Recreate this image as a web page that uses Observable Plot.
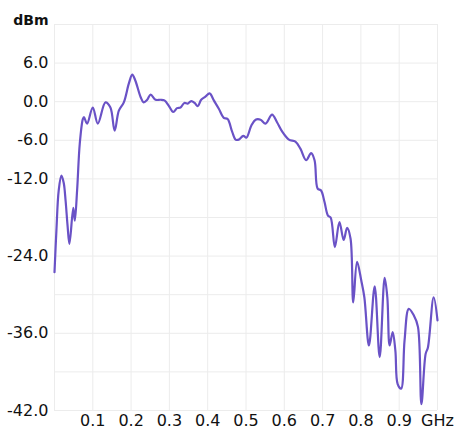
<!DOCTYPE html>
<html>
<head>
<meta charset="utf-8">
<script src="https://cdn.jsdelivr.net/npm/d3@7"></script>
<script src="https://cdn.jsdelivr.net/npm/@observablehq/plot@0.6"></script>
<style>
  html, body { margin: 0; padding: 0; background: #fff; }
</style>
</head>
<body>
<div id="chart"></div>
<script>
const freq = [0.000,0.005,0.011,0.018,0.024,0.029,0.034,0.039,0.049,0.053,
  0.059,0.066,0.074,0.077,0.085,0.100,0.113,0.133,0.146,0.157,
  0.168,0.181,0.194,0.203,0.211,0.225,0.233,0.242,0.251,0.264,
  0.277,0.287,0.298,0.310,0.320,0.329,0.339,0.348,0.357,0.366,
  0.374,0.383,0.394,0.405,0.416,0.429,0.442,0.452,0.464,0.473,
  0.481,0.493,0.501,0.514,0.525,0.538,0.551,0.568,0.581,0.595,
  0.612,0.629,0.642,0.657,0.670,0.679,0.687,0.696,0.705,0.714,
  0.721,0.732,0.744,0.755,0.764,0.773,0.780,0.790,0.801,0.809,
  0.821,0.836,0.849,0.862,0.869,0.875,0.883,0.890,0.896,0.905,
  0.914,0.925,0.938,0.949,0.958,0.969,0.975,0.990,1.000];
const level = [-26.5,-20.0,-13.8,-11.5,-12.6,-15.4,-19.2,-22.1,-16.5,-18.5,
  -13.8,-6.5,-2.7,-2.4,-3.4,-0.9,-3.4,-0.1,-0.9,-4.5,
  -1.4,-0.1,2.8,4.2,3.3,0.7,-0.1,0.3,1.1,0.3,
  0.3,0.2,-0.6,-1.6,-1.0,-0.9,-0.2,-0.3,0.1,-0.2,
  -0.7,0.3,0.8,1.3,0.2,-1.1,-2.5,-2.7,-4.7,-5.9,
  -5.9,-5.3,-5.6,-3.7,-2.8,-2.8,-3.4,-2.0,-3.2,-4.7,
  -5.9,-6.2,-7.3,-9.1,-8.0,-9.1,-13.5,-13.8,-15.6,-17.7,
  -18.0,-22.6,-18.7,-21.5,-19.6,-21.3,-31.2,-24.9,-27.8,-30.4,
  -37.9,-28.7,-39.7,-27.4,-30.4,-37.9,-35.8,-38.7,-43.9,-44.6,
  -37.1,-32.2,-33.2,-35.0,-47.0,-39.2,-38.2,-30.4,-34.0];

const xTicks = [0.1,0.2,0.3,0.4,0.5,0.6,0.7,0.8,0.9,1.0];
const xTickLabels = ["0.1","0.2","0.3","0.4","0.5","0.6","0.7","0.8","0.9","GHz"];
const yTicks = [6,0,-6,-12,-24,-36,-48];
const yTickLabels = ["6.0","0.0","-6.0","-12.0","-24.0","-36.0","-42.0"];
const xGrid = [0,0.1,0.2,0.3,0.4,0.5,0.6,0.7,0.8,0.9,1.0];
const yGrid = [12,6,0,-6,-12,-18,-24,-30,-36,-42,-48];
const yUnit = "dBm";

const data = freq.map((f, i) => ({f, v: level[i]}));
const fontFamily = "'DejaVu Sans', sans-serif";

const chart = Plot.plot({
  width: 455,
  height: 430,
  marginLeft: 54,
  marginRight: 18,
  marginTop: 24,
  marginBottom: 20,
  style: {fontFamily, fontSize: "16px", color: "#111", background: "#fff"},
  x: {domain: [0, 1]},
  y: {domain: [-48, 12]},
  marks: [
    Plot.gridX(xGrid, {stroke: "#ececec", strokeOpacity: 1}),
    Plot.gridY(yGrid, {stroke: "#ececec", strokeOpacity: 1}),
    Plot.axisX(xTicks, {tickSize: 0, tickPadding: 4, label: null,
      tickFormat: (d) => xTickLabels[xTicks.indexOf(d)], fontSize: 16}),
    Plot.axisY(yTicks, {tickSize: 0, tickPadding: 6, label: null,
      tickFormat: (d) => yTickLabels[yTicks.indexOf(d)], fontSize: 16}),
    Plot.line(data, {x: "f", y: "v", stroke: "#6a52c6", strokeWidth: 2.2, curve: "catmull-rom"}),
    Plot.text([yUnit], {frameAnchor: "top-left", text: (d) => d, dx: -6, dy: -4,
      textAnchor: "end", lineAnchor: "middle", fontSize: 14, fontWeight: "bold"})
  ]
});
document.getElementById("chart").appendChild(chart);
</script>
</body>
</html>
